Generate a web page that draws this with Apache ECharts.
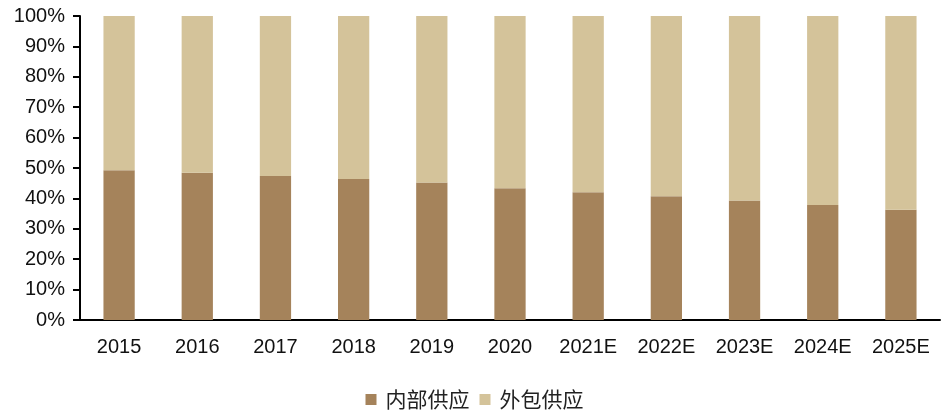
<!DOCTYPE html>
<html>
<head>
<meta charset="utf-8">
<script src="https://cdn.jsdelivr.net/npm/echarts@6/dist/echarts.min.js"></script>
<style>
  html, body { margin: 0; padding: 0; background: #fff; }
  #chart { width: 949px; height: 414px; }
</style>
</head>
<body>
<div id="chart"></div>
<script>
// Supply mix by year: in-house vs. outsourced share (%)
const years = ['2015', '2016', '2017', '2018', '2019', '2020', '2021E', '2022E', '2023E', '2024E', '2025E'];
const inHouse = [49.3, 48.4, 47.4, 46.4, 45.2, 43.3, 42.0, 40.7, 39.3, 37.8, 36.3];
const outsourced = inHouse.map(v => +(100 - v).toFixed(1));
const seriesNames = ['内部供应', '外包供应'];

const chart = echarts.init(document.getElementById('chart'));
chart.setOption({
  animation: false,
  grid: { left: 80, right: 9, top: 16, bottom: 94, containLabel: false },
  legend: {
    top: 384,
    left: 'center',
    icon: 'rect',
    itemWidth: 11,
    itemHeight: 11,
    itemGap: 10,
    textStyle: { fontFamily: 'Noto Sans CJK SC', fontSize: 21, color: '#222', padding: [0, 0, 0, 4] },
    data: seriesNames
  },
  xAxis: {
    type: 'category',
    data: years,
    axisLine: { lineStyle: { color: '#000', width: 2 } },
    axisTick: { inside: true, length: 8, lineStyle: { color: '#000', width: 2 } },
    axisLabel: { fontFamily: 'Liberation Sans', fontSize: 20, color: '#111', margin: 17 }
  },
  yAxis: {
    type: 'value',
    min: 0,
    max: 100,
    interval: 10,
    splitLine: { show: false },
    axisLine: { show: true, lineStyle: { color: '#000', width: 2 } },
    axisTick: { show: true, length: 7, lineStyle: { color: '#000', width: 2 } },
    axisLabel: { formatter: '{value}%', fontFamily: 'Liberation Sans', fontSize: 20, color: '#111', margin: 15 }
  },
  series: [
    {
      name: seriesNames[0],
      type: 'bar',
      stack: 'total',
      barWidth: '40%',
      itemStyle: { color: '#A5835B' },
      data: inHouse
    },
    {
      name: seriesNames[1],
      type: 'bar',
      stack: 'total',
      barWidth: '40%',
      itemStyle: { color: '#D4C39A' },
      data: outsourced
    }
  ]
});
</script>
</body>
</html>
